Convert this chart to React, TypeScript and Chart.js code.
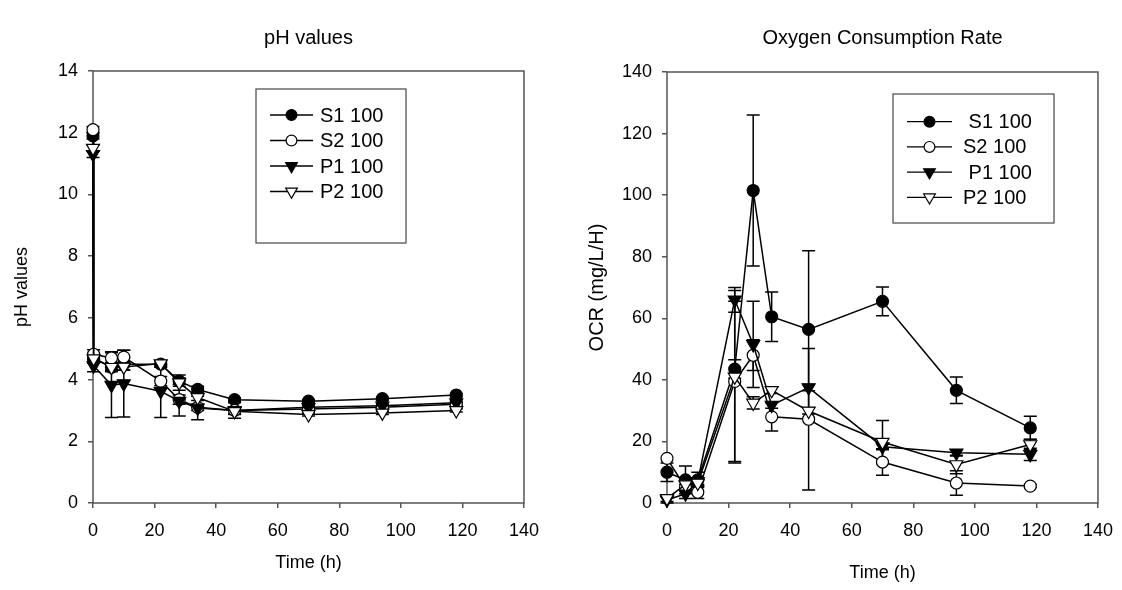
import React, { useEffect, useRef } from "react";
import { Chart, registerables } from "chart.js";

Chart.register(...registerables);

const FONT = "'Liberation Sans', Arial, Helvetica, sans-serif";

// ---------- data ----------
const seriesLabels = ["S1 100", "S2 100", "P1 100", "P2 100"];
const ocrLegendLabels = [" S1 100", "S2 100", " P1 100", "P2 100"];

const xTickValues = [0, 20, 40, 60, 80, 100, 120, 140];

// pH values
const phTimes = [0, 0.2, 6, 10, 22, 28, 34, 46, 70, 94, 118];
const phS1 = [11.9, 4.7, 4.4, 4.5, 4.5, 3.95, 3.68, 3.35, 3.3, 3.38, 3.5];
const phS2 = [12.1, 4.82, 4.7, 4.73, 3.95, 3.35, 3.1, 3.0, 3.05, 3.1, 3.2];
const phP1 = [11.3, 4.45, 3.82, 3.87, 3.62, 3.3, 3.08, 3.0, 3.1, 3.15, 3.25];
const phP2 = [11.5, 4.68, 4.4, 4.41, 4.52, 3.9, 3.42, 2.97, 2.87, 2.92, 3.0];
const phS1Err = [0.1, 0.1, 0.15, 0.2, 0.1, 0.1, 0.1, 0.05, 0.05, 0.05, 0.05];
const phS2Err = [0.1, 0.15, 0.2, 0.22, 0.15, 0.15, 0.1, 0.1, 0.05, 0.05, 0.05];
const phP1Err = [0.1, 0.2, 1.05, 1.08, 0.85, 0.48, 0.38, 0.25, 0.05, 0.05, 0.05];
const phP2Err = [0.1, 0.15, 0.1, 0.1, 0.1, 0.25, 0.1, 0.1, 0.05, 0.05, 0.05];

// Oxygen consumption rate
const ocrTimes = [0, 6, 10, 22, 28, 34, 46, 70, 94, 118];
const ocrS1 = [10, 7.5, 7.5, 43.5, 101.5, 60.5, 56.4, 65.5, 36.6, 24.4];
const ocrS2 = [14.5, 5, 3.5, 39.5, 48, 28, 27.2, 13.3, 6.5, 5.5];
const ocrP1 = [1, 3, 7, 66, 51.5, 31.8, 37.5, 18.3, 16.3, 15.8];
const ocrP2 = [1.5, 6, 6.5, 41, 32.5, 36.6, 29.9, 19.8, 12.5, 19];
const ocrS1Err = [3, 4.5, 2.5, 3, 24.5, 8, 25.5, 4.7, 4.3, 3.8];
const ocrS2Err = [0, 1, 2, 26, 5, 4.6, 23, 4.3, 4, 0.5];
const ocrP1Err = [1, 1.5, 1, 4, 14, 1, 1, 1, 1, 2];
const ocrP2Err = [1, 2, 1, 28, 2, 1, 1, 7, 3, 1.7];

// ---------- styles ----------
const markerStyles = ["circle", "circle", "triangle", "triangle"];
const markerFills = ["#000000", "#ffffff", "#000000", "#ffffff"];
const markerRotations = [0, 0, 180, 180];
const markerRadii = [6, 6, 7.5, 7.5];
const AXIS_COLOR = "#555555";

function drawMarker(
  ctx: CanvasRenderingContext2D,
  style: string,
  x: number,
  y: number,
  r: number,
  fill: string
) {
  ctx.beginPath();
  if (style === "circle") {
    ctx.arc(x, y, r, 0, Math.PI * 2);
  } else {
    let rad = Math.PI;
    for (let k = 0; k < 3; k++) {
      const px = x + Math.sin(rad) * r;
      const py = y - Math.cos(rad) * r;
      if (k === 0) ctx.moveTo(px, py);
      else ctx.lineTo(px, py);
      rad += (2 * Math.PI) / 3;
    }
    ctx.closePath();
  }
  ctx.fillStyle = fill;
  ctx.fill();
  ctx.lineWidth = 1.2;
  ctx.strokeStyle = "#000";
  ctx.stroke();
}

const framePlugin = {
  id: "frameBox",
  beforeDatasetsDraw(chart: any) {
    const { ctx, chartArea } = chart;
    ctx.save();
    ctx.strokeStyle = AXIS_COLOR;
    ctx.lineWidth = 1.5;
    ctx.strokeRect(
      chartArea.left,
      chartArea.top,
      chartArea.right - chartArea.left,
      chartArea.bottom - chartArea.top
    );
    ctx.restore();
  },
};

const errorBarPlugin = {
  id: "errorBars",
  beforeDatasetsDraw(chart: any) {
    const { ctx } = chart;
    const xs = chart.scales.x;
    const ys = chart.scales.y;
    ctx.save();
    ctx.strokeStyle = "#000";
    ctx.lineWidth = 1.5;
    const cap = 6.5;
    chart.data.datasets.forEach((ds: any) => {
      const errs: number[] = ds.errors || [];
      ds.data.forEach((p: any, i: number) => {
        const e = errs[i];
        if (!e) return;
        const x = xs.getPixelForValue(p.x);
        const yt = ys.getPixelForValue(p.y + e);
        const yb = ys.getPixelForValue(Math.max(p.y - e, ys.min));
        ctx.beginPath();
        ctx.moveTo(x, yt);
        ctx.lineTo(x, yb);
        ctx.moveTo(x - cap, yt);
        ctx.lineTo(x + cap, yt);
        if (p.y - e >= ys.min) {
          ctx.moveTo(x - cap, yb);
          ctx.lineTo(x + cap, yb);
        }
        ctx.stroke();
      });
    });
    ctx.restore();
  },
};

const boxLegendPlugin = {
  id: "boxLegend",
  afterDraw(chart: any, _args: any, opts: any) {
    if (!opts || !opts.box) return;
    const { ctx } = chart;
    const b = opts.box;
    ctx.save();
    ctx.fillStyle = "#fff";
    ctx.fillRect(b.left, b.top, b.width, b.height);
    ctx.strokeStyle = AXIS_COLOR;
    ctx.lineWidth = 1.3;
    ctx.strokeRect(b.left, b.top, b.width, b.height);
    ctx.font = `${opts.fontSize}px ${FONT}`;
    ctx.textBaseline = "middle";
    ctx.textAlign = "left";
    opts.labels.forEach((label: string, i: number) => {
      const y = opts.rowTop + i * opts.rowGap;
      ctx.beginPath();
      ctx.strokeStyle = "#000";
      ctx.lineWidth = 1.3;
      ctx.moveTo(opts.lineX0, y);
      ctx.lineTo(opts.lineX1, y);
      ctx.stroke();
      drawMarker(
        ctx,
        markerStyles[i],
        (opts.lineX0 + opts.lineX1) / 2,
        y,
        markerRadii[i] * 0.9,
        markerFills[i]
      );
      ctx.fillStyle = "#000";
      ctx.fillText(label, opts.textX, y + 1);
    });
    ctx.restore();
  },
};

function makeDatasets(times: number[], values: number[][], errors: number[][]) {
  return values.map((vals, i) => ({
    label: seriesLabels[i],
    data: vals.map((v, k) => ({ x: times[k], y: v })),
    errors: errors[i],
    borderColor: "#000",
    borderWidth: 1.5,
    pointStyle: markerStyles[i],
    pointRotation: markerRotations[i],
    pointRadius: markerRadii[i],
    pointBackgroundColor: markerFills[i],
    pointBorderColor: "#000",
    pointBorderWidth: 1.2,
    fill: false,
    tension: 0,
    clip: false,
    order: 4 - i,
  }));
}

type PanelCfg = {
  title: string;
  titlePadBottom: number;
  yMax: number;
  yStep: number;
  yTitle: string;
  yTitleSize: number;
  yTitlePad: number;
  xTitlePadBottom: number;
  datasets: any[];
  legend: any;
};

function buildConfig(cfg: PanelCfg): any {
  const tickFont = { family: FONT, size: 18 };
  return {
    type: "line",
    data: { datasets: cfg.datasets },
    plugins: [framePlugin, errorBarPlugin, boxLegendPlugin],
    options: {
      animation: false,
      responsive: true,
      maintainAspectRatio: false,
      devicePixelRatio: 1,
      layout: { padding: { left: 0, right: 0, top: 0, bottom: 0 } },
      plugins: {
        legend: { display: false },
        tooltip: { enabled: false },
        title: {
          display: true,
          text: cfg.title,
          fullSize: false,
          color: "#000",
          font: { family: FONT, size: 20, weight: "normal" },
          padding: { top: 26, bottom: cfg.titlePadBottom },
        },
        boxLegend: cfg.legend,
      },
      scales: {
        x: {
          type: "linear",
          min: 0,
          max: 140,
          afterBuildTicks: (s: any) => {
            s.ticks = xTickValues.map((v) => ({ value: v }));
          },
          afterFit: (s: any) => {
            s.height = 87;
          },
          ticks: {
            color: "#000",
            font: tickFont,
            padding: 12,
            maxRotation: 0,
            autoSkip: false,
          },
          grid: {
            drawOnChartArea: false,
            drawTicks: true,
            tickLength: 5,
            color: AXIS_COLOR,
            lineWidth: 1.5,
          },
          border: { display: false },
          title: {
            display: true,
            text: "Time (h)",
            color: "#000",
            font: { family: FONT, size: 18 },
            padding: { top: 0, bottom: cfg.xTitlePadBottom },
          },
        },
        y: {
          type: "linear",
          min: 0,
          max: cfg.yMax,
          afterFit: (s: any) => {
            s.width = 93;
          },
          ticks: {
            stepSize: cfg.yStep,
            color: "#000",
            font: tickFont,
            padding: 10,
          },
          grid: {
            drawOnChartArea: false,
            drawTicks: true,
            tickLength: 5,
            color: AXIS_COLOR,
            lineWidth: 1.5,
          },
          border: { display: false },
          title: {
            display: true,
            text: cfg.yTitle,
            color: "#000",
            font: { family: FONT, size: cfg.yTitleSize },
            padding: { top: cfg.yTitlePad, bottom: 0 },
          },
        },
      },
    },
  };
}

function ChartPanel({ left, cfg }: { left: number; cfg: PanelCfg }) {
  const ref = useRef<HTMLCanvasElement>(null);
  useEffect(() => {
    const chart = new Chart(ref.current as HTMLCanvasElement, buildConfig(cfg));
    return () => chart.destroy();
  }, []);
  return (
    <div style={{ position: "absolute", left, top: 0, width: 551, height: 590 }}>
      <canvas ref={ref} />
    </div>
  );
}

export default function App() {
  const phCfg: PanelCfg = {
    title: "pH values",
    titlePadBottom: 21,
    yMax: 14,
    yStep: 2,
    yTitle: "pH values",
    yTitleSize: 18,
    yTitlePad: 11,
    xTitlePadBottom: 16,
    datasets: makeDatasets(phTimes, [phS1, phS2, phP1, phP2], [phS1Err, phS2Err, phP1Err, phP2Err]),
    legend: {
      box: { left: 256, top: 89, width: 150, height: 154 },
      labels: seriesLabels,
      rowTop: 115,
      rowGap: 25.5,
      lineX0: 270,
      lineX1: 313,
      textX: 320,
      fontSize: 20,
    },
  };
  const ocrCfg: PanelCfg = {
    title: "Oxygen Consumption Rate",
    titlePadBottom: 22,
    yMax: 140,
    yStep: 20,
    yTitle: "OCR (mg/L/H)",
    yTitleSize: 20,
    yTitlePad: 11,
    xTitlePadBottom: 6,
    datasets: makeDatasets(ocrTimes, [ocrS1, ocrS2, ocrP1, ocrP2], [ocrS1Err, ocrS2Err, ocrP1Err, ocrP2Err]),
    legend: {
      box: { left: 319, top: 94, width: 161, height: 129 },
      labels: ocrLegendLabels,
      rowTop: 121.7,
      rowGap: 25.2,
      lineX0: 333,
      lineX1: 378,
      textX: 389,
      fontSize: 20,
    },
  };
  return (
    <div
      style={{
        position: "absolute",
        left: 0,
        top: 0,
        width: 1122,
        height: 590,
        background: "#fff",
        overflow: "hidden",
      }}
    >
      <ChartPanel left={0} cfg={phCfg} />
      <ChartPanel left={574} cfg={ocrCfg} />
    </div>
  );
}
